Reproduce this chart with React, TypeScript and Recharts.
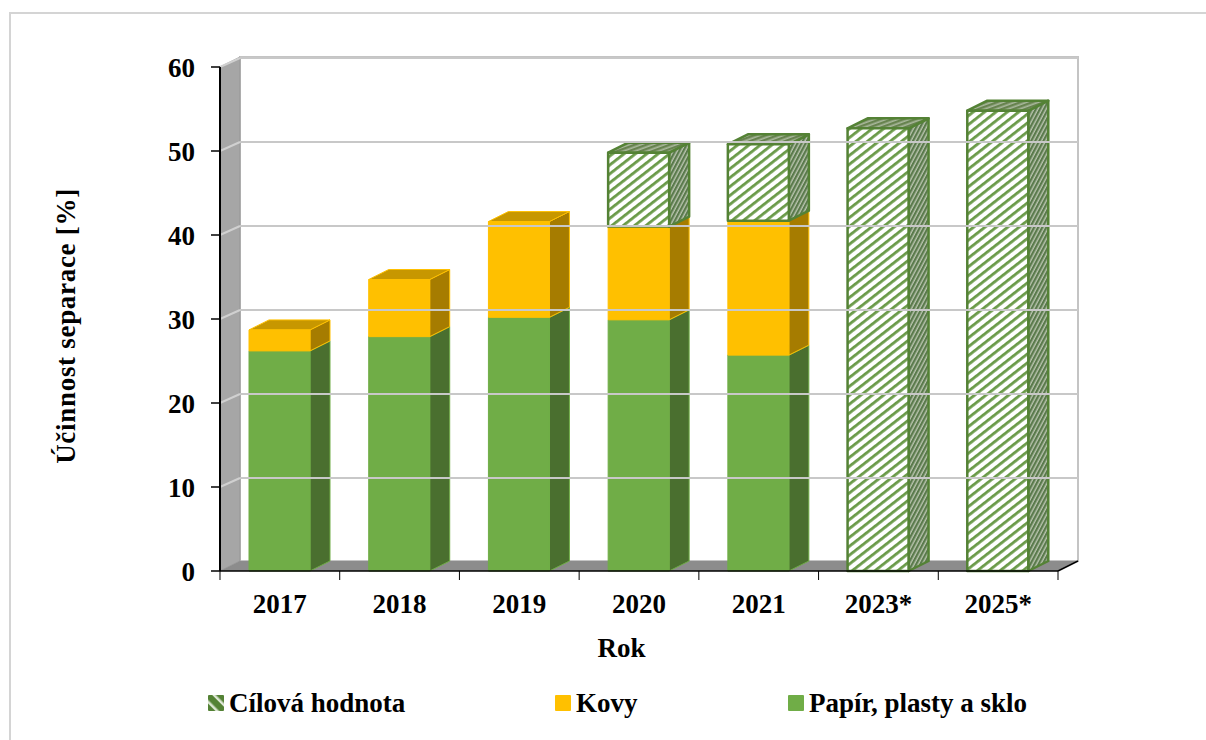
import {
  BarChart,
  Bar,
  XAxis,
  YAxis,
  Legend,
  ReferenceArea,
  ReferenceLine,
} from 'recharts';

const years = ['2017', '2018', '2019', '2020', '2021', '2023*', '2025*'];
const papir = [26.2, 27.9, 30.2, 29.9, 25.7, 0, 0];
const kovy = [2.5, 6.8, 11.4, 11.1, 16, 0, 0];
const cil = [0, 0, 0, 8.8, 9.1, 52.7, 54.8];
const yTicks = [0, 10, 20, 30, 40, 50, 60];

const data = years.map((rok, i) => ({
  rok,
  papir: papir[i],
  kovy: kovy[i],
  cil: cil[i],
}));

const FONT = '"Liberation Serif", "Times New Roman", serif';
const DX = 20;
const DY = -10;

const pts = (list: number[][]) => list.map((p) => p.join(',')).join(' ');

function boxShape(front: string, side: string, top: string, stroke: string, sw: number) {
  return function Box(props: any) {
    const { x, y, width: w, height: h } = props;
    if (!h || h <= 0) return null;
    const common = { stroke, strokeWidth: sw, strokeLinejoin: 'round' as const };
    return (
      <g>
        <polygon
          points={pts([[x + w, y], [x + w + DX, y + DY], [x + w + DX, y + h + DY], [x + w, y + h]])}
          fill={side}
          {...common}
        />
        <polygon
          points={pts([[x, y], [x + DX, y + DY], [x + w + DX, y + DY], [x + w, y]])}
          fill={top}
          {...common}
        />
        <rect x={x} y={y} width={w} height={h} fill={front} {...common} />
      </g>
    );
  };
}

const PapirBox = boxShape('#70AD47', '#4A6F2F', '#5C8E3A', '#70AD47', 1);
const KovyBox = boxShape('#FFC000', '#A67C00', '#C79700', '#FFC000', 1);
const CilBox = boxShape('url(#hatchFront)', 'url(#hatchSide)', 'url(#hatchTop)', '#548235', 2.5);

// floor and side wall of the 3D plot box
function Walls(props: any) {
  const { x, y, width: w, height: h } = props;
  const b = y + h;
  const r = x + w;
  return (
    <g>
      <polygon
        points={pts([[x + DX, y + DY], [r + DX, y + DY], [r + DX, b + DY], [x + DX, b + DY]])}
        fill="#ffffff"
        stroke="#c4c4c4"
        strokeWidth={2}
      />
      <polygon
        points={pts([[x, y], [x + DX, y + DY], [x + DX, b + DY], [x, b]])}
        fill="#a6a6a6"
        stroke="#969696"
        strokeWidth={1}
      />
      <polygon
        points={pts([[x, b], [x + DX, b + DY], [r + DX, b + DY], [r, b]])}
        fill="#8c8c8c"
      />
      <line x1={r} y1={b} x2={r + DX} y2={b + DY} stroke="#000" strokeWidth={1.5} />
    </g>
  );
}

function GridSegment(props: any) {
  const { x1, y1, x2 } = props;
  return (
    <g>
      <line x1={x1} y1={y1} x2={x1 + DX} y2={y1 + DY + 1} stroke="#d0d0d0" strokeWidth={2} />
      <line x1={x1 + DX} y1={y1 + DY + 1} x2={x2 + DX} y2={y1 + DY + 1} stroke="#c8c8c8" strokeWidth={2} />
    </g>
  );
}

function XTick(props: any) {
  const { x, y, payload, index } = props;
  const half = 59.86;
  return (
    <g>
      {index === 0 && <line x1={x - half} y1={y - 8} x2={x - half} y2={y + 1} stroke="#000" />}
      <line x1={x + half} y1={y - 8} x2={x + half} y2={y + 1} stroke="#000" />
      <text x={x} y={y + 34} textAnchor="middle" fontFamily={FONT} fontWeight="bold" fontSize={27} fill="#000">
        {payload.value}
      </text>
    </g>
  );
}

function YTitle() {
  return (
    <text
      transform="translate(75 326) rotate(-90)"
      textAnchor="middle"
      fontFamily={FONT}
      fontWeight="bold"
      fontSize={27}
      letterSpacing={0.7}
      fill="#000"
    >
      Účinnost separace [%]
    </text>
  );
}

function XTitle() {
  return (
    <text x={621.5} y={657} textAnchor="middle" fontFamily={FONT} fontWeight="bold" fontSize={27} fill="#000">
      Rok
    </text>
  );
}

function LegendRow(props: any) {
  const items = props.payload || [];
  const lefts = [208, 555, 788];
  return (
    <div style={{ position: 'relative', height: 30 }}>
      {items.map((it: any, i: number) => (
        <div
          key={it.value}
          style={{ position: 'absolute', left: lefts[i], top: 0, display: 'flex', alignItems: 'center', whiteSpace: 'nowrap' }}
        >
          <svg width={16} height={16} style={{ marginRight: 5 }}>
            <rect
              x={0}
              y={0}
              width={16}
              height={16}
              rx={1}
              fill={it.dataKey === 'cil' ? 'url(#hatchLegend)' : it.color}
            />
          </svg>
          <span style={{ fontFamily: FONT, fontWeight: 'bold', fontSize: 27, color: '#000', lineHeight: '30px' }}>
            {it.value}
          </span>
        </div>
      ))}
    </div>
  );
}

export default function App() {
  return (
    <div style={{ position: 'absolute', left: 0, top: 0, width: 1206, height: 740, overflow: 'hidden', background: '#fff' }}>
      <div
        style={{
          position: 'absolute',
          left: 9,
          top: 12,
          width: 1197,
          height: 728,
          borderTop: '2px solid #d4d4d4',
          borderLeft: '2px solid #d4d4d4',
        }}
      />
      <BarChart
        width={1206}
        height={740}
        data={data}
        barSize={61}
        margin={{ top: 67, right: 148, bottom: 109, left: 150 }}
        style={{ position: 'absolute', left: 0, top: 0 }}
      >
        <defs>
          <pattern id="hatchFront" width={7} height={7} patternUnits="userSpaceOnUse" patternTransform="rotate(-38)">
            <rect width={7} height={7} fill="#fff" />
            <rect width={7} height={2.8} fill="#6a9a48" />
          </pattern>
          <pattern id="hatchSide" width={3.6} height={3.6} patternUnits="userSpaceOnUse" patternTransform="rotate(-62)">
            <rect width={4} height={4} fill="#b9c4ae" />
            <rect width={4} height={2.2} fill="#5a7a4c" />
          </pattern>
          <pattern id="hatchTop" width={4} height={4} patternUnits="userSpaceOnUse" patternTransform="rotate(-20)">
            <rect width={4} height={4} fill="#a9b89c" />
            <rect width={4} height={2.4} fill="#67834f" />
          </pattern>
          <pattern id="hatchLegend" width={9} height={9} patternUnits="userSpaceOnUse" patternTransform="rotate(45)">
            <rect width={9} height={9} fill="#548235" />
            <rect y={3.5} width={9} height={2.5} fill="#dfe8d6" />
          </pattern>
        </defs>
        <XAxis
          dataKey="rok"
          height={60}
          interval={0}
          axisLine={{ stroke: '#000', strokeWidth: 1.5 }}
          tickLine={false}
          tick={<XTick />}
          label={{ value: 'Rok', content: <XTitle /> }}
        />
        <YAxis
          width={70}
          domain={[0, 60]}
          ticks={yTicks}
          interval={0}
          axisLine={{ stroke: '#000', strokeWidth: 2 }}
          tickLine={{ stroke: '#000', strokeWidth: 1.5 }}
          tickSize={9}
          tickMargin={16}
          tick={{ fontFamily: FONT, fontWeight: 'bold', fontSize: 27, fill: '#000' }}
          label={{ value: 'Účinnost separace [%]', content: <YTitle /> }}
        />
        <ReferenceArea y1={0} y2={60} shape={<Walls />} fill="none" stroke="none" />
        {yTicks.slice(1).map((t) => (
          <ReferenceLine key={t} y={t} shape={<GridSegment />} />
        ))}
        <Legend
          verticalAlign="middle"
          layout="horizontal"
          wrapperStyle={{ left: 0, top: 688, width: 1206 }}
          content={<LegendRow />}
        />
        <Bar dataKey="papir" name="Papír, plasty a sklo" stackId="a" fill="#70AD47" shape={<PapirBox />} isAnimationActive={false} />
        <Bar dataKey="kovy" name="Kovy" stackId="a" fill="#FFC000" shape={<KovyBox />} isAnimationActive={false} />
        <Bar dataKey="cil" name="Cílová hodnota" stackId="a" fill="#548235" shape={<CilBox />} isAnimationActive={false} />
      </BarChart>
    </div>
  );
}
